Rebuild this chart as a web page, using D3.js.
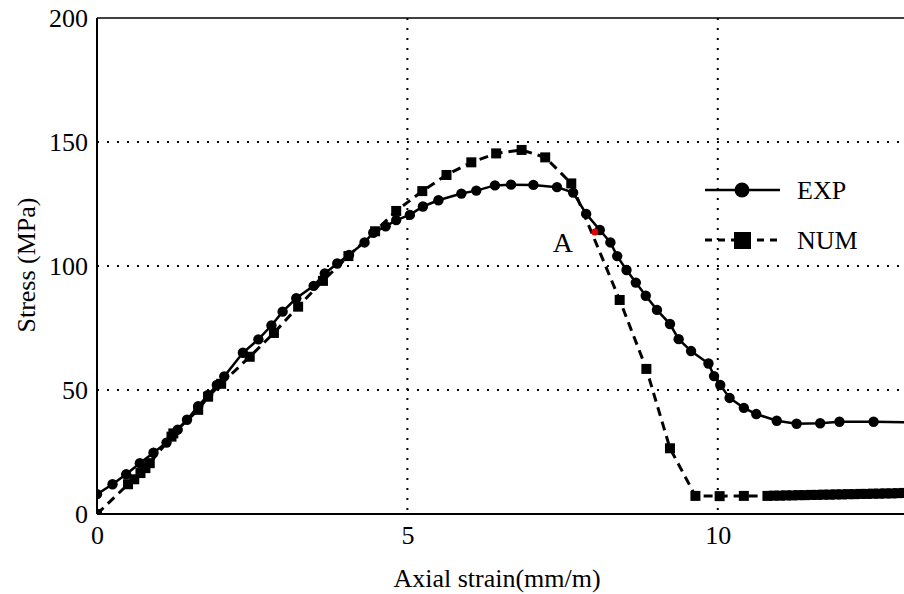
<!DOCTYPE html>
<html><head><meta charset="utf-8">
<script src="https://cdn.jsdelivr.net/npm/d3@7"></script>
<style>body{margin:0;background:#fff;} svg{display:block;}</style>
</head><body>
<svg id="c" width="904" height="594"></svg>
<script>
// EXP series (axial strain mm/m, stress MPa)
const expX = [0,0.25,0.47,0.69,0.91,1.12,1.3,1.45,1.63,1.79,1.93,2.05,2.35,2.6,2.81,2.99,3.21,3.49,3.67,3.87,4.06,4.31,4.45,4.65,4.82,5.04,5.25,5.5,5.87,6.11,6.41,6.67,7.03,7.41,7.67,7.88,8.1,8.27,8.38,8.53,8.68,8.84,9.02,9.23,9.37,9.57,9.85,9.94,10.04,10.19,10.42,10.62,10.95,11.27,11.65,11.96,12.51,13.6];
const expY = [8,12,16,20.5,24.7,28.8,34,38,43.5,48,52,55.5,65,70.4,76,81.6,87,92,97,101,104.5,109.5,113.4,116,118.5,120.6,124,126.5,129.2,130.4,132.5,132.8,132.7,131.8,129.6,121,114.5,109.5,104,98.4,93.3,88,82.3,76.6,70.5,65.7,60.7,55.6,52,46.8,42.8,40.3,37.6,36.4,36.6,37.2,37.2,36.7];
// NUM series
const numX = [0,0.5,0.6,0.7,0.78,0.85,1.2,1.23,1.63,1.79,2.0,2.46,2.85,3.24,3.64,4.05,4.48,4.82,5.24,5.63,6.03,6.43,6.84,7.22,7.64,8.42,8.85,9.23,9.64,10.03,10.42,10.8,10.9,11.0,11.1,11.2,11.3,11.4,11.5,11.6,11.7,11.8,11.9,12.0,12.1,12.2,12.3,12.4,12.5,12.6,12.7,12.8,12.9,13.0];
const numY = [0,12,14,16.5,18.5,20.5,31.2,32.5,42,47.3,52.5,63.4,73,83.6,94,104,114,122.2,130.2,136.7,141.8,145.4,146.8,143.8,133.3,86.3,58.5,26.5,7.3,7.2,7.3,7.3,7.4,7.4,7.5,7.5,7.6,7.6,7.7,7.7,7.8,7.8,7.9,7.9,8.0,8.0,8.1,8.1,8.2,8.2,8.3,8.3,8.4,8.5];
// point A
const pointA = {x: 8.02, y: 113.7, label: "A"};
const xTicks = [0,5,10];
const yTicks = [0,50,100,150,200];
const seriesNames = ["EXP","NUM"];

const svg = d3.select("#c");
const L=97, R=904, T=18, B=514;
const x = d3.scaleLinear().domain([0,13]).range([L,R]);
const y = d3.scaleLinear().domain([0,200]).range([B,T]);
const font = "'Liberation Serif','Times New Roman',serif";

svg.append("defs").append("clipPath").attr("id","clip")
  .append("rect").attr("x",L).attr("y",T).attr("width",R-L).attr("height",B-T);

// grid
const g = svg.append("g");
g.selectAll(".gx").data(xTicks.filter(d=>d>0)).enter().append("line")
  .attr("x1",d=>x(d)).attr("x2",d=>x(d)).attr("y1",T).attr("y2",B)
  .attr("stroke","#000").attr("stroke-width",2).attr("stroke-dasharray","2,8");
g.selectAll(".gy").data(yTicks.filter(d=>d>0&&d<200)).enter().append("line")
  .attr("x1",L).attr("x2",R).attr("y1",d=>y(d)).attr("y2",d=>y(d))
  .attr("stroke","#000").attr("stroke-width",2).attr("stroke-dasharray","2,8");

// frame
svg.append("line").attr("x1",L).attr("x2",R).attr("y1",T).attr("y2",T).attr("stroke","#000").attr("stroke-width",1.5);
svg.append("line").attr("x1",L).attr("x2",L).attr("y1",T).attr("y2",B).attr("stroke","#000").attr("stroke-width",2);
svg.append("line").attr("x1",L).attr("x2",R).attr("y1",B).attr("y2",B).attr("stroke","#000").attr("stroke-width",2);

// axes labels via d3 axes
const xa = svg.append("g").attr("transform",`translate(0,${B})`)
  .call(d3.axisBottom(x).tickValues(xTicks).tickSize(0).tickPadding(12).tickFormat(d3.format("d")));
xa.select(".domain").remove();
xa.selectAll("text").attr("font-family",font).attr("font-size",26).attr("fill","#000");
const ya = svg.append("g").attr("transform",`translate(${L},0)`)
  .call(d3.axisLeft(y).tickValues(yTicks).tickSize(0).tickPadding(9).tickFormat(d3.format("d")));
ya.select(".domain").remove();
ya.selectAll("text").attr("font-family",font).attr("font-size",26).attr("fill","#000");

svg.append("text").attr("x",497).attr("y",587).attr("text-anchor","middle")
  .attr("font-family",font).attr("font-size",26).text("Axial strain(mm/m)");
svg.append("text").attr("transform","translate(35,265) rotate(-90)").attr("text-anchor","middle")
  .attr("font-family",font).attr("font-size",26).text("Stress (MPa)");

const plot = svg.append("g").attr("clip-path","url(#clip)");
const exp = expX.map((d,i)=>({x:d,y:expY[i]}));
const num = numX.map((d,i)=>({x:d,y:numY[i]}));
const line = d3.line().x(d=>x(d.x)).y(d=>y(d.y));

plot.append("path").datum(num).attr("d",line).attr("fill","none")
  .attr("stroke","#000").attr("stroke-width",3).attr("stroke-dasharray","9,6");
plot.selectAll(".sq").data(num).enter().append("rect")
  .attr("x",d=>x(d.x)-5).attr("y",d=>y(d.y)-5).attr("width",10).attr("height",10).attr("fill","#000");

plot.append("path").datum(exp).attr("d",line).attr("fill","none")
  .attr("stroke","#000").attr("stroke-width",2.5);
plot.selectAll(".ci").data(exp).enter().append("circle")
  .attr("cx",d=>x(d.x)).attr("cy",d=>y(d.y)).attr("r",5.2).attr("fill","#000");

// point A
plot.append("circle").attr("cx",x(pointA.x)).attr("cy",y(pointA.y)).attr("r",3.5).attr("fill","#e00000");
svg.append("text").attr("x",x(pointA.x)-32).attr("y",y(pointA.y)+20).attr("text-anchor","middle")
  .attr("font-family",font).attr("font-size",28).text(pointA.label);

// legend
const leg = svg.append("g");
const ly = [190,240];
leg.append("line").attr("x1",705).attr("x2",780).attr("y1",ly[0]).attr("y2",ly[0]).attr("stroke","#000").attr("stroke-width",2.5);
leg.append("circle").attr("cx",742).attr("cy",ly[0]).attr("r",7.5).attr("fill","#000");
leg.append("line").attr("x1",705).attr("x2",780).attr("y1",ly[1]).attr("y2",ly[1]).attr("stroke","#000").attr("stroke-width",3).attr("stroke-dasharray","7,6");
leg.append("rect").attr("x",734).attr("y",ly[1]-8).attr("width",17).attr("height",17).attr("fill","#000");
leg.selectAll(".lt").data(seriesNames).enter().append("text")
  .attr("x",797).attr("y",(d,i)=>ly[i]+9).attr("font-family",font).attr("font-size",26).text(d=>d);
</script>
</body></html>
